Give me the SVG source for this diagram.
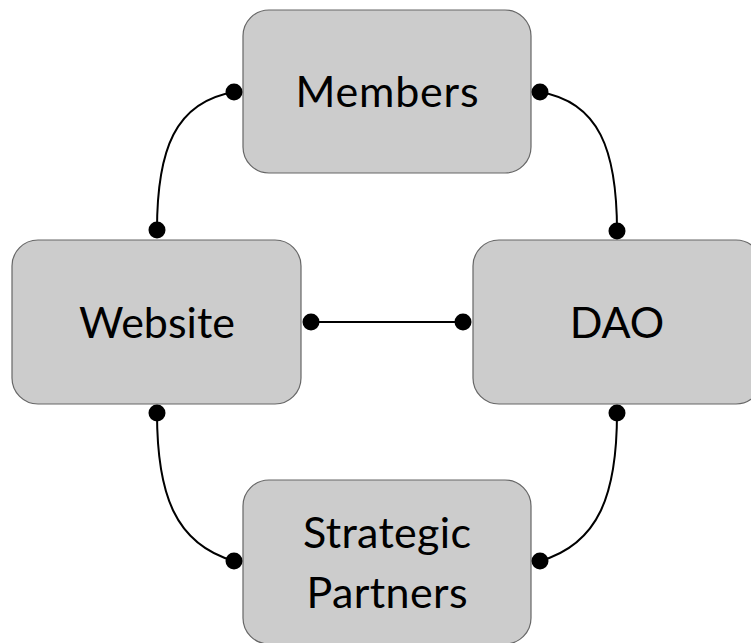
<svg xmlns="http://www.w3.org/2000/svg" width="751" height="643" viewBox="0 0 751 643">
<style>
.box{fill:#cccccc;stroke:#666666;stroke-width:1.2}
.lbl{font-family:Lato,"Open Sans",sans-serif;font-size:43px;fill:#000;text-anchor:middle}
.edge{fill:none;stroke:#000;stroke-width:2}
.dot{fill:#000}
</style>
<g id="members"><rect class="box" x="243" y="10" width="288" height="163" rx="26"/><text class="lbl" x="387" y="107" textLength="183" lengthAdjust="spacing">Members</text></g>
<g id="website"><rect class="box" x="12" y="240" width="289" height="164" rx="26"/><text class="lbl" x="157" y="338" textLength="156" lengthAdjust="spacing">Website</text></g>
<g id="dao"><rect class="box" x="473" y="240" width="289" height="164" rx="26"/><text class="lbl" x="617" y="338">DAO</text></g>
<g id="partners"><rect class="box" x="243" y="480" width="288" height="164" rx="26"/><text class="lbl" x="387" y="548" textLength="168" lengthAdjust="spacing">Strategic</text><text class="lbl" x="387" y="608" textLength="161" lengthAdjust="spacing">Partners</text></g>
<g id="connectors">
<path class="edge" d="M234,92 C175,102 157,150 157,230"/>
<path class="edge" d="M540,92 C599,102 617,150 617,231"/>
<path class="edge" d="M157,413 C157,494 175,544 234,561"/>
<path class="edge" d="M617,413 C617,494 599,544 540,561"/>
<path class="edge" d="M311,322 L463,322"/>
<circle class="dot" cx="234" cy="92" r="8.5"/>
<circle class="dot" cx="157" cy="230" r="8.5"/>
<circle class="dot" cx="540" cy="92" r="8.5"/>
<circle class="dot" cx="617" cy="231" r="8.5"/>
<circle class="dot" cx="157" cy="413" r="8.5"/>
<circle class="dot" cx="234" cy="561" r="8.5"/>
<circle class="dot" cx="617" cy="413" r="8.5"/>
<circle class="dot" cx="540" cy="561" r="8.5"/>
<circle class="dot" cx="311" cy="322" r="8.5"/>
<circle class="dot" cx="463" cy="322" r="8.5"/>
</g>
</svg>
